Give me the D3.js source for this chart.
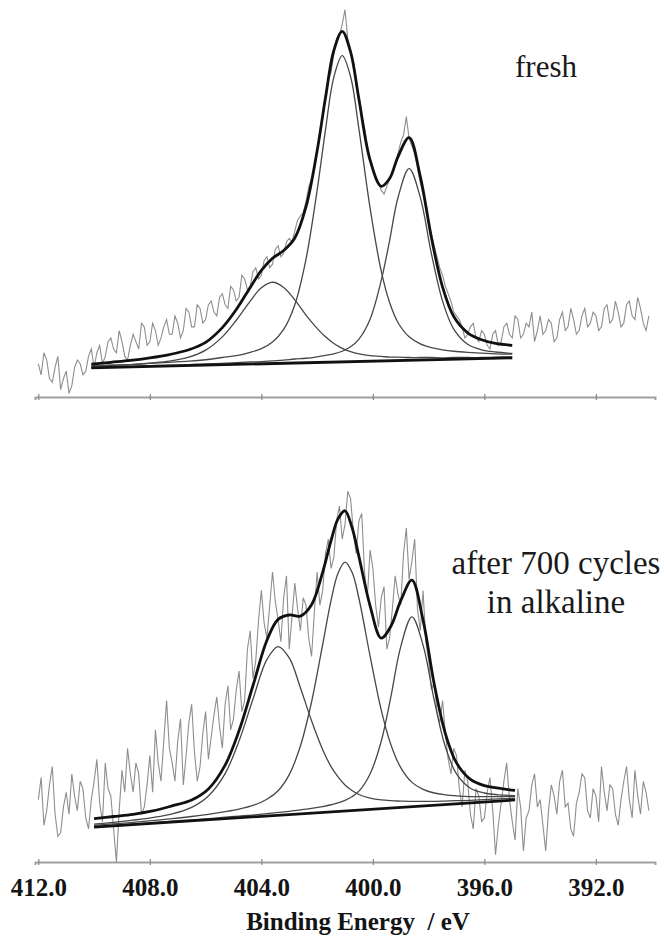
<!DOCTYPE html>
<html><head><meta charset="utf-8">
<script src="https://cdn.jsdelivr.net/npm/d3@7"></script>
<style>
body{margin:0;background:#fff}
svg{display:block}
svg text{font-family:"Liberation Serif","DejaVu Serif","Times New Roman",serif}
</style>
</head><body>
<svg id="chart" width="664" height="938"></svg>
<script>
// ---------- axis / text ----------
const xTicks = [412, 408, 404, 400, 396, 392];
const tickLabels = ["412.0", "408.0", "404.0", "400.0", "396.0", "392.0"];
const xTitle = "Binding Energy  / eV";
const freshLabel = ["fresh"];
const agedLabel = ["after 700 cycles", "in alkaline"];

// ---------- top panel: fresh (intensity, a.u.) ----------
const freshFitE = [410.1, 409.4, 408.7, 408.0, 407.3, 406.6, 406.0, 405.4, 404.9, 404.4, 404.0, 403.6, 403.2, 402.8, 402.4, 402.0, 401.7, 401.4, 401.1, 400.8, 400.5, 400.1, 399.7, 399.4, 399.1, 398.7, 398.3, 397.9, 397.5, 397.1, 396.6, 396.1, 395.6, 395.0];
const freshPeak1 = [8.4, 8.6, 8.8, 9.1, 9.4, 9.7, 10.1, 10.7, 11.2, 12.1, 13.1, 14.9, 18.3, 25.0, 37.3, 56.0, 72.4, 86.7, 92.5, 86.8, 72.6, 51.2, 34.1, 25.6, 20.2, 16.3, 14.4, 13.4, 12.8, 12.4, 12.1, 11.9, 11.7, 11.6];
const freshPeak2 = [8.0, 8.2, 8.3, 8.5, 8.6, 8.8, 9.0, 9.1, 9.3, 9.5, 9.6, 9.8, 10.0, 10.3, 10.5, 10.9, 11.3, 11.7, 12.4, 13.6, 15.7, 21.1, 31.6, 42.4, 54.0, 61.9, 54.1, 38.8, 26.0, 18.4, 14.3, 12.8, 12.2, 11.8];
const freshPeak3 = [8.3, 8.6, 8.8, 9.2, 9.7, 10.8, 12.7, 16.3, 20.8, 26.0, 29.6, 31.1, 29.7, 26.3, 22.2, 18.6, 16.3, 14.5, 13.2, 12.3, 11.7, 11.2, 11.0, 10.8, 10.8, 10.7, 10.7, 10.7, 10.6, 10.7, 10.7, 10.7, 10.8, 10.9];
const freshEnvelope = [8.9, 9.4, 9.9, 10.6, 11.5, 12.8, 14.8, 18.8, 23.7, 29.7, 34.3, 37.6, 39.7, 43.1, 51.5, 66.7, 81.1, 93.9, 99.1, 93.5, 80.7, 64.2, 57.1, 59.2, 65.1, 70.3, 59.8, 43.2, 29.8, 21.8, 17.4, 15.5, 14.5, 14.0];
const freshBgE = [410.1, 395.0];
const freshBg = [7.9, 10.6];
// raw counts, every 0.1 eV from 412.0 to 390.1 eV
const freshRaw = [
  9, 6, 12, 10, 5, 4, 8, 11, 2, 5, 7, 1, 3, 8, 10, 9, 6, 7, 11, 13,
  8, 12, 14, 9, 11, 15, 16, 13, 12, 18, 15, 11, 10, 14, 17, 15, 13, 20, 19, 14,
  15, 20, 18, 14, 16, 19, 21, 17, 17, 22, 20, 16, 18, 24, 23, 19, 19, 25, 24, 20,
  21, 25, 26, 23, 22, 27, 28, 25, 24, 30, 29, 26, 27, 33, 32, 29, 30, 34, 35, 32,
  33, 37, 38, 35, 36, 40, 41, 38, 39, 42, 43, 42, 45, 48, 49, 50, 53, 57, 59, 62,
  67, 72, 76, 82, 86, 88, 93, 97, 98, 101, 105, 97, 94, 91, 86, 80, 76, 73, 68, 65,
  62, 59, 58, 56, 55, 57, 59, 61, 63, 66, 69, 71, 76, 70, 68, 66, 62, 58, 55, 52,
  48, 44, 41, 38, 35, 33, 30, 28, 26, 23, 22, 21, 19, 16, 17, 19, 20, 16, 15, 18,
  17, 14, 13, 17, 18, 14, 15, 19, 20, 17, 16, 22, 21, 16, 17, 20, 19, 23, 15, 18,
  22, 17, 18, 21, 20, 15, 16, 21, 23, 18, 19, 24, 21, 17, 18, 22, 24, 19, 20, 23,
  22, 18, 19, 24, 25, 20, 21, 26, 23, 19, 20, 25, 26, 22, 21, 27, 24, 20, 18, 22];

// ---------- bottom panel: after 700 cycles ----------
const agedFitE = [410.0, 409.3, 408.6, 407.9, 407.2, 406.5, 405.9, 405.3, 404.8, 404.3, 403.8, 403.4, 403.0, 402.6, 402.2, 401.8, 401.5, 401.25, 401.0, 400.75, 400.5, 400.1, 399.7, 399.35, 399.0, 398.6, 398.2, 397.8, 397.4, 397.0, 396.5, 396.0, 395.5, 394.9];
const agedPeak1 = [10.0, 10.4, 10.8, 11.3, 11.8, 12.4, 13.0, 13.7, 14.4, 15.4, 17.1, 19.4, 23.8, 31.6, 43.6, 59.3, 71.3, 78.7, 81.7, 79.0, 71.8, 56.1, 41.4, 31.9, 25.7, 21.7, 19.8, 18.8, 18.3, 18.0, 17.8, 17.8, 17.8, 17.9];
const agedPeak2 = [9.6, 10.0, 10.4, 10.7, 11.1, 11.5, 11.8, 12.2, 12.5, 12.8, 13.2, 13.5, 13.8, 14.2, 14.6, 15.1, 15.6, 16.1, 16.8, 17.8, 19.3, 24.0, 32.9, 45.2, 58.7, 66.8, 59.1, 44.1, 31.4, 24.0, 20.1, 18.8, 18.3, 18.1];
const agedPeak3 = [10.3, 10.8, 11.4, 12.1, 13.1, 14.9, 18.0, 24.1, 33.0, 44.4, 55.2, 58.7, 55.6, 47.5, 38.5, 30.6, 26.0, 23.2, 21.0, 19.5, 18.4, 17.4, 16.9, 16.7, 16.6, 16.5, 16.5, 16.5, 16.6, 16.7, 16.8, 17.0, 17.2, 17.4];
const agedEnvelope = [11.8, 12.4, 13.0, 13.9, 15.3, 16.9, 19.9, 26.4, 35.8, 48.1, 60.4, 66.1, 67.3, 67.0, 70.1, 79.0, 87.6, 93.5, 95.7, 91.2, 83.2, 69.8, 61.0, 64.3, 71.2, 76.8, 65.9, 48.5, 35.0, 27.0, 22.5, 20.8, 20.1, 19.5];
const agedBgE = [410.0, 394.9];
const agedBg = [9.5, 16.9];
// raw counts, every 0.1 eV from 412.0 to 390.1 eV
const agedRaw = [
  17, 23, 10, 14, 21, 26, 13, 7, 8, 15, 19, 13, 24, 18, 14, 22, 20, 12, 9, 17,
  22, 28, 16, 11, 27, 20, 18, 9, 0, 14, 25, 19, 31, 24, 19, 27, 24, 13, 15, 21,
  29, 19, 36, 27, 22, 33, 44, 31, 27, 22, 33, 39, 21, 29, 38, 43, 30, 22, 26, 35,
  41, 28, 34, 40, 45, 37, 31, 43, 48, 36, 39, 47, 52, 41, 44, 58, 63, 50, 55, 66,
  74, 65, 61, 70, 79, 71, 66, 60, 72, 78, 58, 67, 76, 69, 63, 72, 70, 61, 56, 68,
  79, 70, 74, 84, 88, 80, 83, 93, 97, 88, 92, 101, 99, 90, 84, 93, 95, 79, 72, 85,
  80, 70, 64, 72, 75, 58, 61, 69, 78, 73, 70, 84, 91, 77, 82, 88, 69, 63, 74, 60,
  55, 47, 49, 41, 38, 44, 35, 28, 24, 31, 29, 20, 15, 25, 22, 13, 9, 20, 18, 11,
  12, 19, 23, 14, 2, 10, 16, 22, 27, 17, 11, 6, 20, 15, 3, 12, 14, 21, 24, 15,
  17, 10, 3, 14, 21, 18, 13, 22, 25, 15, 16, 9, 7, 16, 19, 24, 23, 14, 12, 20,
  18, 11, 26, 19, 14, 21, 20, 13, 10, 17, 22, 26, 17, 12, 25, 18, 13, 22, 19, 14];
const rawE = d3.range(0, 220).map(i => +(412 - 0.1 * i).toFixed(1));

// ---------- drawing ----------
const svg = d3.select("#chart");
const x = d3.scaleLinear().domain([412.12, 389.88]).range([35, 655]);

const panels = [
  { y0: 397, y1: 28, fitE: freshFitE, peaks: [freshPeak1, freshPeak2, freshPeak3], env: freshEnvelope,
    bgE: freshBgE, bg: freshBg, raw: freshRaw, label: freshLabel, lx: 546, ly: 77, fs: 31, showTicks: false },
  { y0: 862, y1: 495, fitE: agedFitE, peaks: [agedPeak1, agedPeak2, agedPeak3], env: agedEnvelope,
    bgE: agedBgE, bg: agedBg, raw: agedRaw, label: agedLabel, lx: 556, ly: 574, fs: 33, showTicks: true }
];

panels.forEach(p => {
  const y = d3.scaleLinear().domain([0, 100]).range([p.y0, p.y1]);
  const g = svg.append("g");

  // axis
  const ax = g.append("g").attr("transform", `translate(0,${p.y0})`)
    .call(d3.axisBottom(x).tickValues(xTicks).tickSizeOuter(0).tickSize(3).tickPadding(13)
      .tickFormat((d, i) => p.showTicks ? tickLabels[i] : ""));
  ax.attr("font-family", null);
  ax.select(".domain").attr("stroke", "#a0a0a0").attr("stroke-width", 2);
  ax.selectAll(".tick line").attr("y1", -3).attr("y2", 3).attr("stroke", "#888").attr("stroke-width", 1.2);
  ax.selectAll(".tick text").style("font-weight", "bold")
    .style("font-size", "25px").attr("fill", "#141414");

  const fitLine = d3.line().x(d => x(d[0])).y(d => y(d[1])).curve(d3.curveCatmullRom.alpha(0.5));
  const rawLine = d3.line().x(d => x(d[0])).y(d => y(d[1]));

  // raw data
  g.append("path").datum(rawE.map((e, i) => [e, p.raw[i]]))
    .attr("d", rawLine).attr("fill", "none").attr("stroke", "#8e8e8e").attr("stroke-width", 1.1);

  // components
  p.peaks.forEach(pk => {
    g.append("path").datum(p.fitE.map((e, i) => [e, pk[i]]))
      .attr("d", fitLine).attr("fill", "none").attr("stroke", "#474747").attr("stroke-width", 1.3);
  });

  // background
  g.append("path").datum(p.bgE.map((e, i) => [e, p.bg[i]]))
    .attr("d", rawLine).attr("fill", "none").attr("stroke", "#111").attr("stroke-width", 2.8);

  // envelope
  g.append("path").datum(p.fitE.map((e, i) => [e, p.env[i]]))
    .attr("d", fitLine).attr("fill", "none").attr("stroke", "#111").attr("stroke-width", 2.8);

  // label
  p.label.forEach((t, i) => {
    g.append("text").attr("x", p.lx).attr("y", p.ly + i * 39).attr("text-anchor", "middle")
      .style("font-size", p.fs + "px").attr("fill", "#1a1a1a").text(t);
  });
});

svg.append("text").attr("x", 358).attr("y", 930).attr("text-anchor", "middle")
  .style("font-weight", "bold").style("font-size", "25px")
  .attr("fill", "#141414").style("white-space", "pre").text(xTitle);
</script>
</body></html>
